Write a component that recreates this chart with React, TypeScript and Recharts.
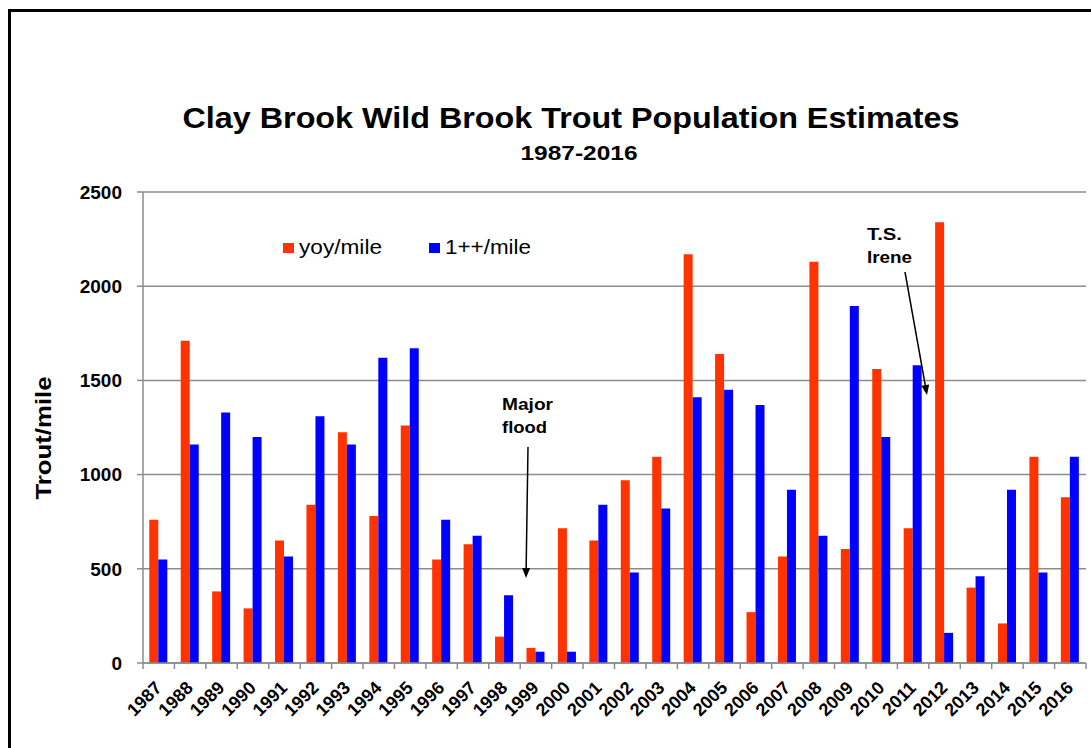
import { BarChart, Bar, XAxis, YAxis, CartesianGrid, Legend } from "recharts"

const years = [
  "1987", "1988", "1989", "1990", "1991", "1992", "1993", "1994", "1995", "1996",
  "1997", "1998", "1999", "2000", "2001", "2002", "2003", "2004", "2005", "2006",
  "2007", "2008", "2009", "2010", "2011", "2012", "2013", "2014", "2015", "2016",
]
const yoyPerMile = [
  760, 1710, 380, 290, 650, 840, 1225, 780, 1260, 550,
  630, 140, 80, 715, 650, 970, 1095, 2170, 1640, 270,
  565, 2130, 605, 1560, 715, 2340, 400, 210, 1095, 880,
]
const adultPerMile = [
  550, 1160, 1330, 1200, 565, 1310, 1160, 1620, 1670, 760,
  675, 360, 60, 60, 840, 480, 820, 1410, 1450, 1370,
  920, 675, 1895, 1200, 1580, 160, 460, 920, 480, 1095,
]
const yTicks = [0, 500, 1000, 1500, 2000, 2500]
const seriesNames = ["yoy/mile", "1++/mile"]

const FONT = '"Liberation Sans", Arial, sans-serif'
const RED = "#ff3300"
const BLUE = "#0000ff"
const GRID = "#8c8c8c"

const data = years.map((year, i) => ({
  year,
  yoy: yoyPerMile[i],
  adult: adultPerMile[i],
}))

function YearTick(props: any) {
  const { x, y, payload, index } = props
  const half = payload?.offset ?? 15.7
  const ax = x + 4
  const ay = y + 26
  return (
    <g>
      <line x1={x - half} x2={x - half} y1={y} y2={y + 6} stroke={GRID} strokeWidth={1.5} />
      {index === years.length - 1 && (
        <line x1={x + half} x2={x + half} y1={y} y2={y + 6} stroke={GRID} strokeWidth={1.5} />
      )}
      <text
        x={ax}
        y={ay}
        textAnchor="end"
        transform={`rotate(-45, ${ax}, ${ay})`}
        fontFamily={FONT}
        fontWeight="bold"
        fontSize={18}
        fill="#000"
      >
        {payload.value}
      </text>
    </g>
  )
}

function LegendBox(props: any) {
  const items = [...(props.payload ?? [])].sort(
    (a: any, b: any) => seriesNames.indexOf(a.value) - seriesNames.indexOf(b.value)
  )
  return (
    <svg width={300} height={26} style={{ display: "block" }}>
      {items.map((item: any, i: number) => (
        <g key={item.value} transform={`translate(${i * 146}, 0)`}>
          <rect x={0} y={7} width={11} height={10} fill={item.color} />
          <text x={16} y={18} fontFamily={FONT} fontSize={20} fill="#000" textLength={i === 0 ? 83 : 86} lengthAdjust="spacingAndGlyphs">
            {item.value}
          </text>
        </g>
      ))}
    </svg>
  )
}

function Arrow({ x1, y1, x2, y2 }: { x1: number; y1: number; x2: number; y2: number }) {
  const dx = x2 - x1
  const dy = y2 - y1
  const len = Math.hypot(dx, dy)
  const ux = dx / len
  const uy = dy / len
  const bx = x2 - ux * 10
  const by = y2 - uy * 10
  const px = -uy * 4
  const py = ux * 4
  return (
    <g>
      <line x1={x1} y1={y1} x2={bx} y2={by} stroke="#000" strokeWidth={1.5} />
      <polygon points={`${x2},${y2} ${bx + px},${by + py} ${bx - px},${by - py}`} fill="#000" />
    </g>
  )
}

export default function App() {
  return (
    <div
      style={{
        position: "absolute",
        left: 0,
        top: 0,
        width: 1091,
        height: 748,
        overflow: "hidden",
        background: "#fff",
      }}
    >
      <div
        style={{
          position: "absolute",
          left: 8,
          top: 9,
          width: 1200,
          height: 900,
          border: "3px solid #000",
        }}
      />
      <div style={{ position: "absolute", left: 0, top: 0 }}>
        <BarChart
          width={1091}
          height={748}
          data={data}
          margin={{ top: 192, right: 5, bottom: 45, left: 83 }}
          barCategoryGap="20%"
          barGap={0}
        >
          <CartesianGrid vertical={false} stroke={GRID} strokeWidth={1.5} />
          <XAxis
            dataKey="year"
            height={40}
            interval={0}
            tickSize={0}
            tickMargin={0}
            tickLine={false}
            axisLine={{ stroke: GRID, strokeWidth: 1.5 }}
            tick={<YearTick />}
          />
          <YAxis
            width={60}
            domain={[0, 2500]}
            ticks={yTicks}
            interval={0}
            tickSize={6}
            tickMargin={15}
            tickLine={{ stroke: GRID, strokeWidth: 1.5 }}
            axisLine={{ stroke: GRID, strokeWidth: 1.5 }}
            tick={{ fontFamily: FONT, fontWeight: "bold", fontSize: 19, fill: "#000" }}
          />
          <YAxis
            yAxisId="r"
            orientation="right"
            width={0}
            domain={[0, 2500]}
            tick={false}
            tickLine={false}
            axisLine={{ stroke: GRID, strokeWidth: 1.5 }}
          />
          <Legend
            layout="horizontal"
            verticalAlign="middle"
            align="center"
            wrapperStyle={{ top: 236, left: 283, width: 300 }}
            content={<LegendBox />}
          />
          <Bar dataKey="yoy" name={seriesNames[0]} fill={RED} isAnimationActive={false} />
          <Bar dataKey="adult" name={seriesNames[1]} fill={BLUE} isAnimationActive={false} />
        </BarChart>
      </div>
      <svg
        width={1091}
        height={748}
        style={{ position: "absolute", left: 0, top: 0, pointerEvents: "none" }}
      >
        <text x={571} y={128} textAnchor="middle" fontFamily={FONT} fontWeight="bold" fontSize={29} textLength={777} lengthAdjust="spacingAndGlyphs">
          Clay Brook Wild Brook Trout Population Estimates
        </text>
        <text x={579} y={160} textAnchor="middle" fontFamily={FONT} fontWeight="bold" fontSize={21} textLength={117} lengthAdjust="spacingAndGlyphs">
          1987-2016
        </text>
        <text transform="translate(51, 438) rotate(-90)" textAnchor="middle" fontFamily={FONT} fontWeight="bold" fontSize={22} textLength={123} lengthAdjust="spacingAndGlyphs">
          Trout/mile
        </text>
        <text x={502} y={410} fontFamily={FONT} fontWeight="bold" fontSize={16} textLength={51} lengthAdjust="spacingAndGlyphs">
          Major
        </text>
        <text x={502} y={433} fontFamily={FONT} fontWeight="bold" fontSize={16} textLength={45} lengthAdjust="spacingAndGlyphs">
          flood
        </text>
        <Arrow x1={528} y1={447} x2={526} y2={578} />
        <text x={867} y={240} fontFamily={FONT} fontWeight="bold" fontSize={17} textLength={35} lengthAdjust="spacingAndGlyphs">
          T.S.
        </text>
        <text x={867} y={263} fontFamily={FONT} fontWeight="bold" fontSize={17} textLength={45} lengthAdjust="spacingAndGlyphs">
          Irene
        </text>
        <Arrow x1={905} y1={272} x2={927} y2={395} />
      </svg>
    </div>
  )
}
